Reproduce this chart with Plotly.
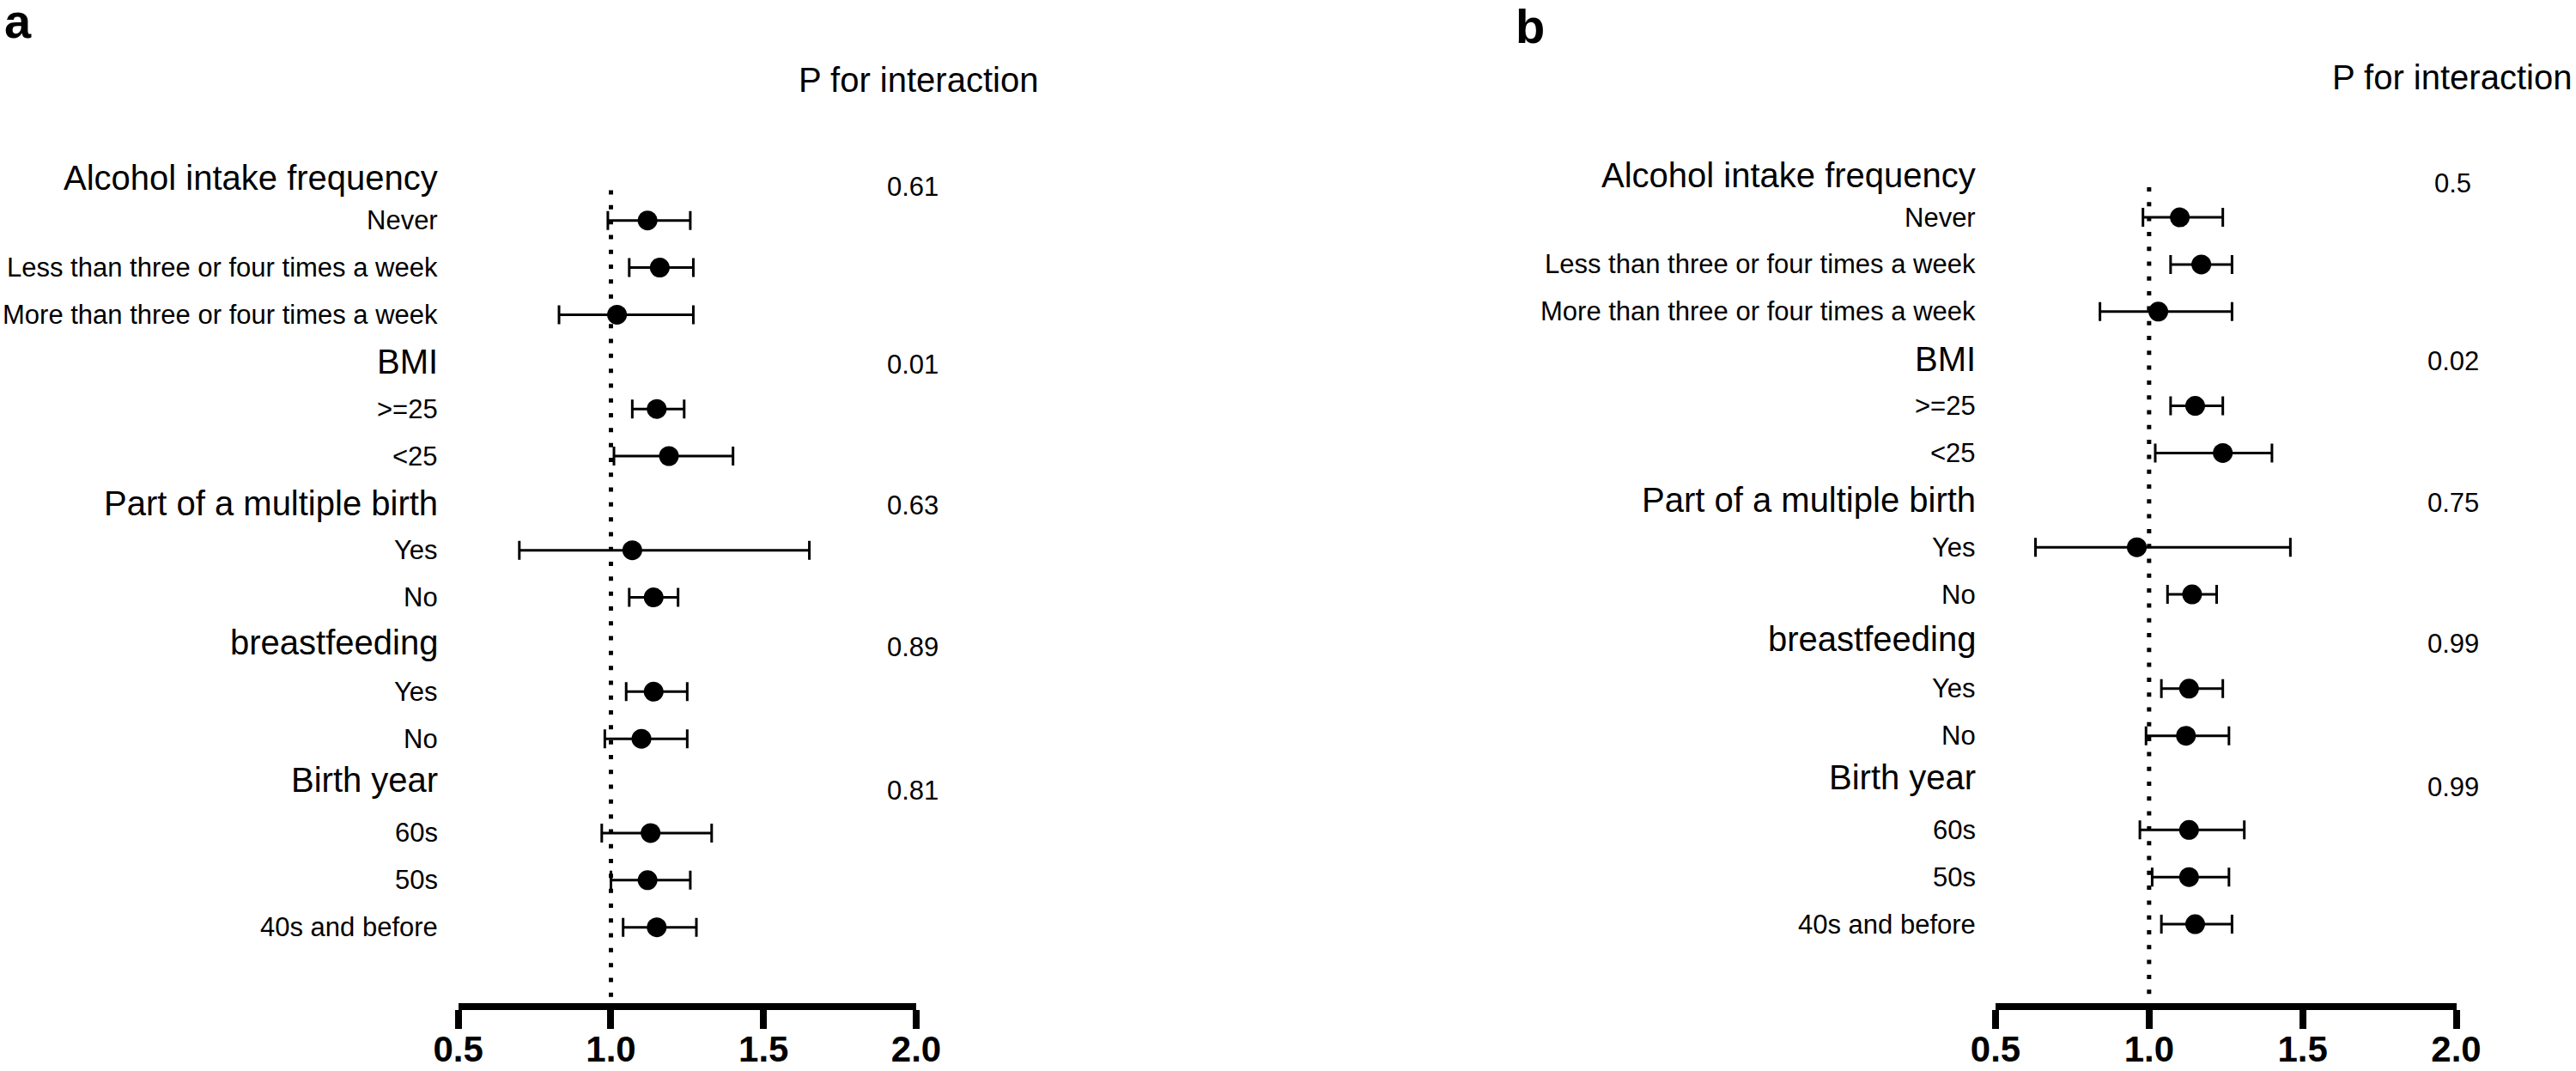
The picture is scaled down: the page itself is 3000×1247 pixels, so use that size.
import plotly.graph_objects as go

# ---------------- data ----------------
row_labels = ["Alcohol intake frequency", "Never", "Less than three or four times a week",
              "More than three or four times a week", "BMI", ">=25", "<25",
              "Part of a multiple birth", "Yes", "No", "breastfeeding", "Yes", "No",
              "Birth year", "60s", "50s", "40s and before"]
is_header = [1, 0, 0, 0, 1, 0, 0, 1, 0, 0, 1, 0, 0, 1, 0, 0, 0]

# panel a (subgroup rows only, in order)
est_a = [1.12, 1.16, 1.02, 1.15, 1.19, 1.07, 1.14, 1.14, 1.10, 1.13, 1.12, 1.15]
lo_a = [0.99, 1.06, 0.83, 1.07, 1.01, 0.70, 1.06, 1.05, 0.98, 0.97, 1.00, 1.04]
hi_a = [1.26, 1.27, 1.27, 1.24, 1.40, 1.65, 1.22, 1.25, 1.25, 1.33, 1.26, 1.28]
p_a = ["0.61", "0.01", "0.63", "0.89", "0.81"]

# panel b
est_b = [1.10, 1.17, 1.03, 1.15, 1.24, 0.96, 1.14, 1.13, 1.12, 1.13, 1.13, 1.15]
lo_b = [0.98, 1.07, 0.84, 1.07, 1.02, 0.63, 1.06, 1.04, 0.99, 0.97, 1.01, 1.04]
hi_b = [1.24, 1.27, 1.27, 1.24, 1.40, 1.46, 1.22, 1.24, 1.26, 1.31, 1.26, 1.27]
p_b = ["0.5", "0.02", "0.75", "0.99", "0.99"]

tick_vals = [0.5, 1.0, 1.5, 2.0]
tick_text = ["0.5", "1.0", "1.5", "2.0"]
panel_letters = ["a", "b"]
p_header = "P for interaction"
ref_value = 1.0

# ---------------- figure ----------------
W, H = 3000, 1247
FONT = "Liberation Sans, Arial, Helvetica, sans-serif"
sub_rows = [i for i, h in enumerate(is_header) if not h]
head_rows = [i for i, h in enumerate(is_header) if h]

# small vertical nudges (in row units) for header texts and p-values
header_nudge = {"Birth year": -0.12, "breastfeeding": -0.05, "Alcohol intake frequency": 0.1}
p_nudge = [0.28, 0.05, 0.05, 0.05, 0.1]

fig = go.Figure()

panels = [
    dict(est=est_a, lo=lo_a, hi=hi_a, p=p_a, xa="x", ya="y", hdr_x=1.005),
    dict(est=est_b, lo=lo_b, hi=hi_b, p=p_b, xa="x2", ya="y2", hdr_x=0.99),
]

for pn in panels:
    fig.add_trace(go.Scatter(
        x=pn["est"], y=sub_rows, mode="markers",
        marker=dict(color="black", size=23, symbol="circle", line=dict(width=0)),
        error_x=dict(type="data", symmetric=False,
                     array=[h - e for h, e in zip(pn["hi"], pn["est"])],
                     arrayminus=[e - l for e, l in zip(pn["est"], pn["lo"])],
                     color="black", thickness=3, width=11),
        xaxis=pn["xa"], yaxis=pn["ya"], showlegend=False, hoverinfo="skip",
        cliponaxis=False,
    ))

axis_common = dict(range=[0.5, 2.0], showgrid=False, zeroline=False,
                   showline=True, linecolor="black", linewidth=8,
                   ticks="outside", ticklen=22, tickwidth=8, tickcolor="black",
                   tickvals=tick_vals, ticktext=tick_text,
                   tickfont=dict(family=FONT, size=42, color="black", weight="bold"),
                   ticklabelstandoff=-12,
                   fixedrange=True, automargin=False)

y_top = -3.678
y_bot = 17.61
fig.update_layout(
    template="none",
    width=W, height=H,
    margin=dict(l=0, r=0, t=0, b=79, pad=0, autoexpand=False),
    paper_bgcolor="white", plot_bgcolor="white",
    xaxis=dict(domain=[533.7 / W, 1067.0 / W], anchor="y", **axis_common),
    xaxis2=dict(domain=[2324.0 / W, 2860.5 / W], anchor="y2", **axis_common),
    yaxis=dict(domain=[0, 1], range=[y_bot, y_top], visible=False, anchor="x", automargin=False),
    yaxis2=dict(domain=[0, 1], range=[y_bot + 0.065, y_top + 0.065], visible=False, anchor="x2",
                automargin=False),
    font=dict(family=FONT, color="black"),
    showlegend=False,
)

shapes = []
annotations = []
for k, pn in enumerate(panels):
    xa, ya = pn["xa"], pn["ya"]
    # dotted reference line at 1.0
    shapes.append(dict(type="line", xref=xa, yref=ya, x0=ref_value, x1=ref_value,
                       y0=0.36, y1=17.55, line=dict(color="black", width=5, dash="5px,12.3px")))
    # row labels
    for i, (lab, h) in enumerate(zip(row_labels, is_header)):
        dy = header_nudge.get(lab, 0.0) if h else 0.0
        annotations.append(dict(text=lab, xref=xa + " domain", yref=ya, x=-0.04, y=i + dy,
                                xanchor="right", yanchor="middle", showarrow=False,
                                font=dict(family=FONT, size=40 if h else 31, color="black")))
    # p values
    for r, pv, dn in zip(head_rows, pn["p"], p_nudge):
        annotations.append(dict(text=pv, xref=xa + " domain", yref=ya, x=0.993, y=r + dn,
                                xanchor="center", yanchor="middle", showarrow=False,
                                font=dict(family=FONT, size=31, color="black")))
    annotations.append(dict(text=p_header, xref=xa + " domain", yref=ya, x=pn["hdr_x"], y=-1.98,
                            xanchor="center", yanchor="middle", showarrow=False,
                            font=dict(family=FONT, size=40, color="black")))

# panel letters
annotations.append(dict(text=panel_letters[0], xref="paper", yref="paper", x=4 / W, y=1 - 26 / H,
                        xanchor="left", yanchor="middle", showarrow=False, borderpad=0,
                        font=dict(family=FONT, size=56, color="black", weight="bold")))
annotations.append(dict(text=panel_letters[1], xref="paper", yref="paper", x=1764 / W, y=1 - 33 / H,
                        xanchor="left", yanchor="middle", showarrow=False, borderpad=0,
                        font=dict(family=FONT, size=56, color="black", weight="bold")))

fig.update_layout(shapes=shapes, annotations=annotations)
fig.write_html("out.html", config={"displayModeBar": False, "staticPlot": True},
               post_script="document.body.style.margin='0';")
